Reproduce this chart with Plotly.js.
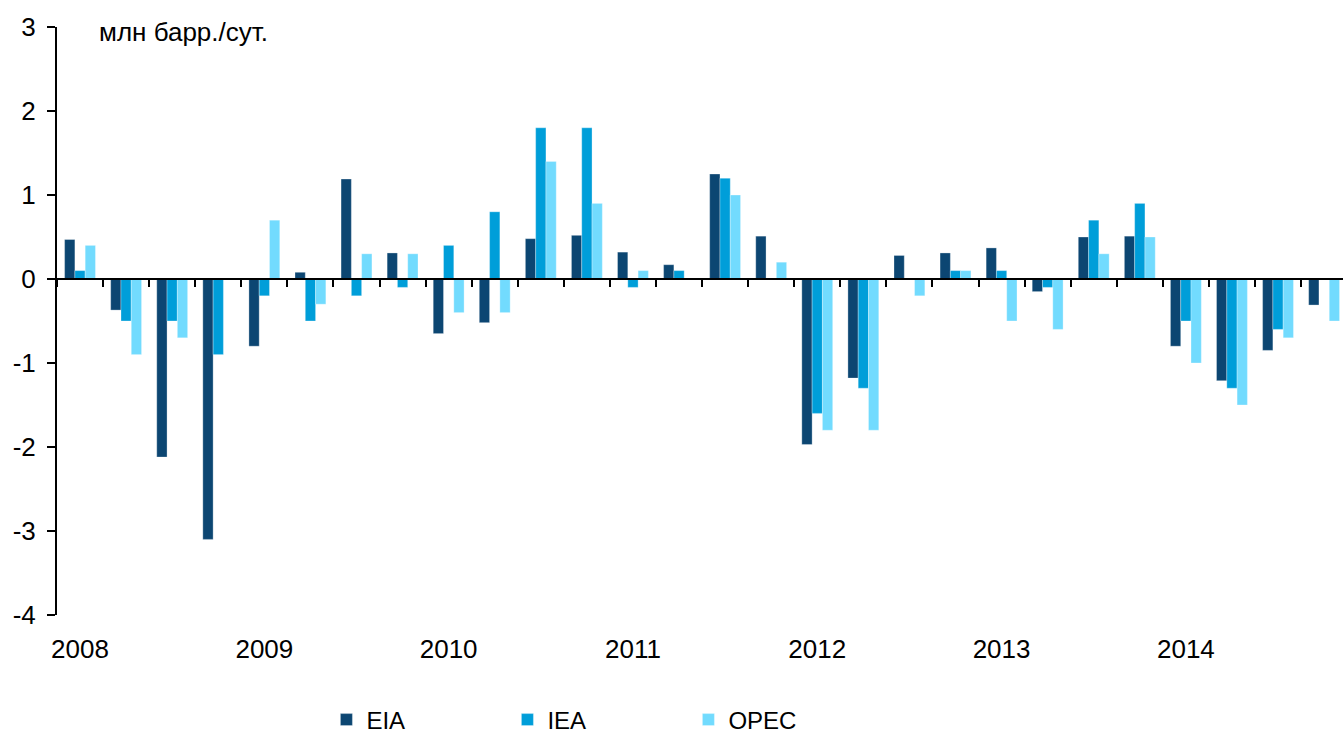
<!DOCTYPE html>
<html>
<head>
<meta charset="utf-8">
<script src="https://cdn.plot.ly/plotly-3.0.1.min.js"></script>
<style>html,body{margin:0;padding:0;background:#fff;}#chart{width:1343px;height:734px;}</style>
</head>
<body>
<div id="chart"></div>
<script>
// Quarters 2008Q1 .. 2014Q4
const quarters = [
  "2008Q1","2008Q2","2008Q3","2008Q4",
  "2009Q1","2009Q2","2009Q3","2009Q4",
  "2010Q1","2010Q2","2010Q3","2010Q4",
  "2011Q1","2011Q2","2011Q3","2011Q4",
  "2012Q1","2012Q2","2012Q3","2012Q4",
  "2013Q1","2013Q2","2013Q3","2013Q4",
  "2014Q1","2014Q2","2014Q3","2014Q4"
];
const eia = [0.47,-0.37,-2.12,-3.10, -0.80,0.08,1.19,0.31, -0.65,-0.52,0.48,0.52, 0.32,0.17,1.25,0.51, -1.97,-1.18,0.28,0.31, 0.37,-0.15,0.50,0.51, -0.80,-1.21,-0.85,-0.31];
const iea = [0.10,-0.50,-0.50,-0.90, -0.20,-0.50,-0.20,-0.10, 0.40,0.80,1.80,1.80, -0.10,0.10,1.20,0, -1.60,-1.30,0,0.10, 0.10,-0.10,0.70,0.90, -0.50,-1.30,-0.60,0];
const opec = [0.40,-0.90,-0.70,0, 0.70,-0.30,0.30,0.30, -0.40,-0.40,1.40,0.90, 0.10,0,1.00,0.20, -1.80,-1.80,-0.20,0.10, -0.50,-0.60,0.30,0.50, -1.00,-1.50,-0.70,-0.50];
const yearLabels = ["2008","2009","2010","2011","2012","2013","2014"];
const yTickVals = [-4,-3,-2,-1,0,1,2,3];
const yTickText = ["-4","-3","-2","-1","0","1","2","3"];
const unitLabel = "млн барр./сут.";

const colors = {EIA:"#0C4672", IEA:"#009ED9", OPEC:"#72DBFE"};
const FONT = "Liberation Sans, Arial, sans-serif";
const AXFONT = 26;

function barTrace(name, vals){
  return {
    type:"bar", name:name, x:quarters, y:vals, xaxis:"x", yaxis:"y",
    marker:{color:colors[name], line:{color:"rgba(255,255,255,0.6)", width:0.5}},
    hoverinfo:"x+y+name"
  };
}
const data = [barTrace("EIA",eia), barTrace("IEA",iea), barTrace("OPEC",opec)];
// invisible carrier trace so the bottom label axis (x2) gets the same categories
data.push({type:"bar", x:quarters, y:eia, xaxis:"x2", yaxis:"y", showlegend:false,
           marker:{color:"rgba(0,0,0,0)"}, hoverinfo:"skip"});

const yearQ1 = yearLabels.map(y => y+"Q1");
const nRange = [-0.5, 27.41];

const layout = {
  width:1343, height:734,
  margin:{l:57, r:0, t:27, b:119, pad:0},
  paper_bgcolor:"#fff", plot_bgcolor:"#fff",
  font:{family:FONT, size:24, color:"#000"},
  barmode:"group", bargap:0.33, bargroupgap:0,
  showlegend:true,
  legend:{orientation:"h", x:0.2095, xanchor:"left", xref:"paper",
          y:1-720/734, yanchor:"middle", yref:"container",
          font:{family:FONT, size:24, color:"#000"}, entrywidth:136, entrywidthmode:"pixels",
          itemwidth:30, traceorder:"normal", bgcolor:"rgba(0,0,0,0)"},
  xaxis:{
    type:"category", range:nRange, anchor:"free", position:4/7,
    showline:true, linecolor:"#000", linewidth:2,
    ticks:"outside", ticklen:7, tickwidth:2, tickcolor:"#000", tickson:"boundaries",
    showticklabels:false, showgrid:false, zeroline:false, fixedrange:true
  },
  xaxis2:{
    type:"category", overlaying:"x", anchor:"y", side:"bottom", range:nRange,
    tickmode:"array", tickvals:yearQ1, ticktext:yearLabels,
    ticks:"", showline:false, showgrid:false, zeroline:false,
    tickfont:{family:FONT, size:AXFONT, color:"#000"}, ticklabelstandoff:16
  },
  yaxis:{
    range:[-4,3], tickmode:"array", tickvals:yTickVals, ticktext:yTickText,
    showline:true, linecolor:"#000", linewidth:2,
    ticks:"outside", ticklen:8, tickwidth:2, tickcolor:"#000",
    showgrid:false, zeroline:false,
    tickfont:{family:FONT, size:AXFONT, color:"#000"}, ticklabelstandoff:6
  },
  annotations:[{
    text:unitLabel, xref:"paper", yref:"paper", x:0.031, y:0.9915,
    xanchor:"left", yanchor:"middle", showarrow:false,
    font:{family:FONT, size:AXFONT, color:"#000"}
  }]
};

Plotly.newPlot("chart", data, layout, {displayModeBar:false, staticPlot:true});
</script>
</body>
</html>
